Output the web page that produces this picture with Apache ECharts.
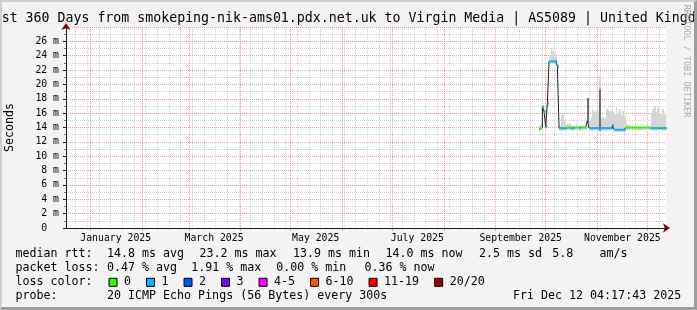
<!DOCTYPE html>
<html><head><meta charset="utf-8">
<script src="https://cdn.jsdelivr.net/npm/echarts@6/dist/echarts.min.js"></script>
<style>
html,body{margin:0;padding:0;background:#f3f3f3;}
#wrap{position:relative;width:697px;height:310px;}
#c{width:697px;height:310px;}
#frame{position:absolute;left:0;top:0;width:697px;height:310px;box-sizing:border-box;border-top:2px solid #cfcfcf;border-left:2px solid #cfcfcf;border-right:3px solid #9e9e9e;border-bottom:3px solid #9e9e9e;pointer-events:none;}
</style></head>
<body><div id="wrap"><div id="c"></div><div id="frame"></div></div>
<script>
// ---------- data ----------
const T_START = Date.UTC(2024, 11, 17, 4, 17, 43);
const T_END = Date.UTC(2025, 11, 12, 4, 17, 43);
const DAY = 86400000;
const dataStartDate = Date.UTC(2025, 8, 27); // first daily sample (Sep 27 2025)

// median rtt per day (ms)
const median = [
  13.8, 14.0, 16.9, 16.2, 14.1, 17.4, 23.2, 23.2, 23.2, 23.2,
  23.2, 22.5, 13.9, 13.9, 13.9, 13.9, 14.0, 14.0, 14.0, 13.9,
  13.9, 14.0, 14.0, 14.0, 13.9, 14.0, 14.0, 14.0, 14.0, 15.0,
  13.9, 13.9, 13.9, 13.9, 13.9, 13.9, 13.9, 13.9, 13.9, 13.9,
  13.9, 13.9, 13.9, 13.9, 14.3, 13.7, 13.7, 13.7, 13.7, 13.7,
  13.7, 13.7, 14.0, 14.0, 14.0, 14.0, 14.0, 14.0, 14.0, 14.0,
  14.0, 14.0, 14.0, 14.0, 14.0, 14.0, 14.0, 13.9, 13.9, 13.9,
  13.9, 13.9, 14.0, 13.9, 13.9, 13.9, 13.9
];
// top of the smoke (max ping) per day (ms)
const smokeTop = [
  14.3, 14.6, 17.2, 16.6, 14.6, 17.8, 24.0, 25.1, 24.7, 24.4,
  23.9, 22.8, 14.2, 15.8, 16.0, 14.8, 14.3, 14.5, 14.6, 14.4,
  14.3, 14.2, 14.6, 14.2, 14.3, 14.2, 14.3, 14.2, 14.4, 15.4,
  15.0, 15.4, 16.5, 16.2, 16.5, 16.4, 21.1, 15.3, 15.5, 15.3,
  16.5, 16.6, 16.3, 16.5, 16.2, 15.8, 17.0, 15.9, 16.5, 15.7,
  16.3, 15.6, 14.6, 14.4, 14.3, 14.1, 14.1, 14.1, 14.1, 14.1,
  14.1, 14.1, 14.1, 14.1, 14.1, 14.1, 14.1, 16.0, 16.6, 17.0,
  16.2, 16.8, 16.0, 15.8, 16.6, 15.8, 15.8
];
// dense (dark) smoke top, null where not present
const smokeDark = [
  null, null, null, null, null, null, null, null, null, null,
  null, null, null, null, null, null, null, null, null, null,
  null, null, null, null, null, null, null, null, null, 18.1,
  null, null, null, null, null, null, 19.3, null, null, null,
  null, null, null, null, null, null, null, null, null, null,
  null, null, null, null, null, null, null, null, null, null,
  null, null, null, null, null, null, null, null, null, null,
  null, null, null, null, null, null, null
];
// loss class per day (index into lossNames)
const lossClass = [
  0, 0, 1, 1, 1, 1, 1, 1, 1, 1,
  1, 1, 1, 1, 1, 1, 0, 0, 0, 1,
  1, 0, 0, 0, 1, 0, 0, 0, 0, 1,
  1, 1, 1, 1, 1, 1, 1, 1, 1, 1,
  1, 1, 1, 1, 1, 1, 1, 1, 1, 1,
  1, 1, 0, 0, 0, 0, 0, 0, 0, 0,
  0, 0, 0, 0, 0, 0, 0, 1, 1, 1,
  1, 1, 0, 1, 1, 1, 1
];
const lossNames = ['0', '1', '2', '3', '4-5', '6-10', '11-19', '20/20'];
const lossColors = ['#26ff00', '#00b8ff', '#0059ff', '#7e00ff', '#ff00ff', '#ff5500', '#ff0000', '#a10000'];

const monthNames = ['January','February','March','April','May','June','July','August','September','October','November','December'];
const monthStarts = ['2025-01-01','2025-02-01','2025-03-01','2025-04-01','2025-05-01','2025-06-01','2025-07-01','2025-08-01','2025-09-01','2025-10-01','2025-11-01','2025-12-01'];
const monthLabelDates = ['2025-01-16','2025-03-16','2025-05-16','2025-07-16','2025-09-16','2025-11-16'];

const titleText = 'Last 360 Days from smokeping-nik-ams01.pdx.net.uk to Virgin Media | AS5089 | United Kingdom';
const row1 = [['median rtt:', 15.5], ['14.8 ms avg', 107], ['23.2 ms max', 199.5], ['13.9 ms min', 293], ['14.0 ms now', 385.5], ['2.5 ms sd', 479], ['5.8', 552.2], ['am/s', 599.5]];
const row2 = [['packet loss:', 15.5], ['0.47 % avg', 107], ['1.91 % max', 191.2], ['0.00 % min', 276.2], ['0.36 % now', 364.5]];
const row3 = [['loss color:', 15.5]];
const row4 = [['probe:', 15.5], ['20 ICMP Echo Pings (56 Bytes) every 300s', 107], ['Fri Dec 12 04:17:43 2025', 513]];

// ---------- build ----------
const utc = s => { const p = s.split('-').map(Number); return Date.UTC(p[0], p[1] - 1, p[2]); };
const monthTs = monthStarts.map(utc);
const labelTs = monthLabelDates.map(utc);
const weekTs = [];
for (let t = Date.UTC(2024, 11, 23); t < T_END; t += 7 * DAY) if (!monthTs.includes(t)) weekTs.push(t);

const ts = median.map((_, i) => dataStartDate + i * DAY);
const stepData = vals => { const d = vals.map((v, i) => [ts[i], v]); d.push([ts[ts.length - 1] + DAY, vals[vals.length - 1]]); return d; };
const smokeLow = median.map(v => v - 0.35);
const lightData = smokeTop.map((v, i) => [ts[i], smokeLow[i], v]);
const darkData = [];
smokeDark.forEach((v, i) => { if (v != null) darkData.push([ts[i], smokeLow[i], v]); });

const MONO = '"DejaVu Sans Mono", monospace';
const MINOR = 'rgba(150,150,150,0.45)';
const MAJOR = 'rgba(222,79,79,0.55)';

const bandItem = color => (params, api) => {
  const t = api.value(0), lo = api.value(1), hi = api.value(2);
  const a = api.coord([t, hi]), b = api.coord([t + DAY, lo]);
  const x0 = Math.round(a[0]), x1 = Math.round(b[0]);
  return { type: 'rect', shape: { x: x0, y: a[1], width: x1 - x0, height: b[1] - a[1] }, style: { fill: color } };
};

const series = [];
series.push({ name: 'smoke', type: 'custom', renderItem: bandItem('#d6d6d6'), data: lightData, encode: { x: 0, y: [1, 2] }, clip: true, silent: true, z: 2 });
series.push({ name: 'dense', type: 'custom', renderItem: bandItem('#707070'), data: darkData, encode: { x: 0, y: [1, 2] }, clip: true, silent: true, z: 2 });
series.push({ name: 'median', type: 'line', step: 'end', data: stepData(median), symbol: 'none', lineStyle: { color: '#202020', width: 1 }, silent: true, z: 4 });
lossNames.forEach((nm, c) => {
  const d = [];
  median.forEach((m, i) => {
    if (lossClass[i] === c) { d.push([ts[i], m]); d.push([ts[i] + DAY, m]); d.push([ts[i] + DAY, null]); }
  });
  series.push({ name: nm, type: 'line', data: d, symbol: 'none', connectNulls: false, color: lossColors[c], itemStyle: { color: lossColors[c] }, lineStyle: { color: lossColors[c], width: 2 }, silent: true, z: 5 });
});

const texts = [];
const addRow = (row, yMid) => row.forEach(([t, x]) => texts.push({ type: 'text', x: x, y: yMid, silent: true, style: { text: t, fontFamily: MONO, fontSize: 11.65, fill: '#000', align: 'left', verticalAlign: 'middle' } }));
addRow(row1, 254.3); addRow(row2, 268.3); addRow(row3, 282.3); addRow(row4, 296.2);
texts.push({ type: 'text', x: -14.3, y: 18.6, silent: true, style: { text: titleText, fontFamily: MONO, fontSize: 13.25, fill: '#000', align: 'left', verticalAlign: 'middle' } });
texts.push({ type: 'text', x: 686.5, y: 61, rotation: -Math.PI / 2, silent: true, style: { text: 'RRDTOOL / TOBI OETIKER', fontFamily: MONO, fontSize: 8.5, fill: '#acacac', align: 'center', verticalAlign: 'middle' } });

const chart = echarts.init(document.getElementById('c'), null, { renderer: 'canvas' });
chart.setOption({
  animation: false,
  backgroundColor: '#f3f3f3',
  grid: { left: 66, right: 31, top: 27, bottom: 82, show: true, backgroundColor: '#ffffff', borderWidth: 0, containLabel: false, outerBoundsMode: 'none' },
  xAxis: [
    { type: 'value', min: T_START, max: T_END, position: 'bottom',
      axisLine: { show: true, onZero: false, lineStyle: { color: '#1a1a1a', width: 1 } },
      axisTick: { show: true, customValues: monthTs, length: 3, lineStyle: { color: MAJOR } },
      axisLabel: { show: true, customValues: labelTs, margin: 5, fontFamily: MONO, fontSize: 9.8, lineHeight: 10, color: '#000',
        align: 'center', hideOverlap: false,
        formatter: v => { const d = new Date(v); return monthNames[d.getUTCMonth()] + ' ' + d.getUTCFullYear(); } },
      splitLine: { show: true, lineStyle: { color: MAJOR, type: [1, 1], width: 1 } } },
    { type: 'value', min: T_START, max: T_END, position: 'bottom',
      axisLine: { show: true, onZero: false, symbol: ['none', 'arrow'], symbolSize: [7, 7], symbolOffset: [0, 4], lineStyle: { color: '#800000', width: 0 } },
      axisTick: { show: true, customValues: weekTs, length: 2, lineStyle: { color: MINOR } },
      axisLabel: { show: false },
      splitLine: { show: true, lineStyle: { color: MINOR, type: [1, 1], width: 1 } } }
  ],
  yAxis: [
    { type: 'value', min: 0, max: 28, interval: 2, position: 'left',
      axisLine: { show: true, onZero: false, lineStyle: { color: '#1a1a1a', width: 1 } },
      axisTick: { show: true, length: 3, lineStyle: { color: '#1a1a1a' } },
      minorTick: { show: true, splitNumber: 2, length: 2, lineStyle: { color: '#777' } },
      axisLabel: { margin: 7, fontFamily: MONO, fontSize: 9.8, color: '#000', showMaxLabel: false,
        formatter: v => v === 0 ? '0  ' : v + ' m' },
      splitLine: { show: true, lineStyle: { color: MAJOR, type: [1, 1], width: 1 } },
      minorSplitLine: { show: true, lineStyle: { color: MINOR, type: [1, 1], width: 1 } },
      name: 'Seconds', nameLocation: 'middle', nameGap: 49, nameRotate: 90,
      nameTextStyle: { fontFamily: MONO, fontSize: 11.65, color: '#000', lineHeight: 14 } },
    { type: 'value', min: 0, max: 28, interval: 2, position: 'left',
      axisLine: { show: true, onZero: false, symbol: ['none', 'arrow'], symbolSize: [7, 7], symbolOffset: [0, 4], lineStyle: { color: '#800000', width: 0 } },
      axisTick: { show: false }, axisLabel: { show: false }, splitLine: { show: false } }
  ],
  legend: { show: true, data: lossNames, left: 108.5, top: 275.3, icon: 'rect', itemWidth: 8, itemHeight: 8, itemGap: 15, padding: 0,
    selectedMode: false, itemStyle: { borderColor: '#000', borderWidth: 1 },
    textStyle: { fontFamily: MONO, fontSize: 11.65, color: '#000', lineHeight: 14, padding: [0, 0, 0, 2] } },
  graphic: texts,
  series: series
});
</script>
</body></html>
